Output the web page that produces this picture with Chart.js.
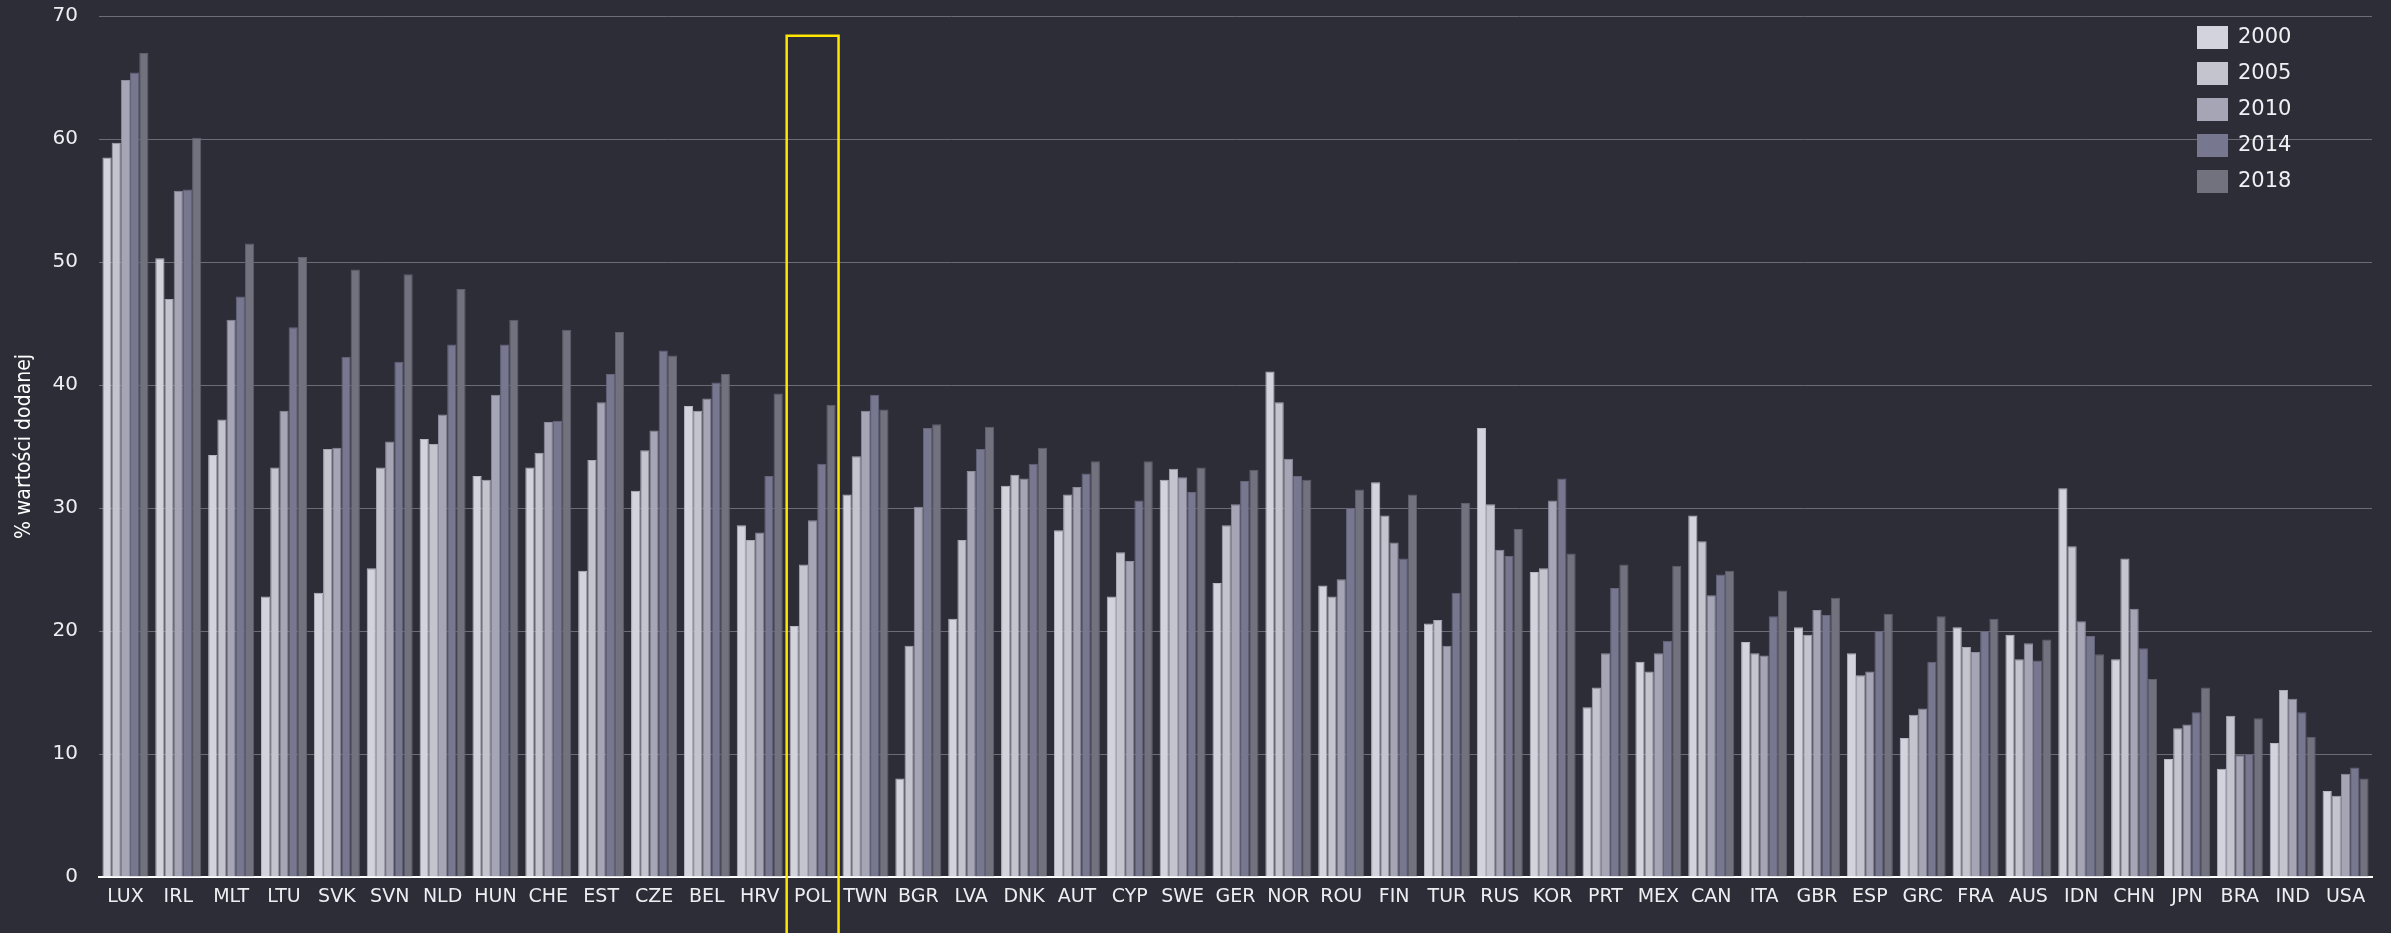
<!DOCTYPE html>
<html>
<head>
<meta charset="utf-8">
<script src="https://cdn.jsdelivr.net/npm/chart.js@4.4.1/dist/chart.umd.min.js"></script>
<style>
  html, body { margin: 0; padding: 0; background: #2d2d38; }
  #wrap { width: 2391px; height: 933px; }
</style>
</head>
<body>
<div id="wrap"><canvas id="grafico"></canvas></div>
<script>
const kraje = ['LUX','IRL','MLT','LTU','SVK','SVN','NLD','HUN','CHE','EST','CZE','BEL','HRV','POL','TWN','BGR','LVA','DNK','AUT','CYP','SWE','GER','NOR','ROU','FIN','TUR','RUS','KOR','PRT','MEX','CAN','ITA','GBR','ESP','GRC','FRA','AUS','IDN','CHN','JPN','BRA','IND','USA']
const lata = ['2000','2005','2010','2014','2018']

const v2000 = [58.5,50.3,34.3,22.8,23.1,25.1,35.6,32.6,33.3,24.9,31.4,38.3,28.6,20.4,31.1,8.0,21.0,31.8,28.2,22.8,32.3,23.9,41.1,23.7,32.1,20.6,36.5,24.8,13.8,17.5,29.4,19.1,20.3,18.2,11.3,20.3,19.7,31.6,17.7,9.6,8.8,10.9,7.0]
const v2005 = [59.7,47.0,37.2,33.3,34.8,33.3,35.2,32.3,34.5,33.9,34.7,37.9,27.4,25.4,34.2,18.8,27.4,32.7,31.1,26.4,33.2,28.6,38.6,22.8,29.4,20.9,30.3,25.1,15.4,16.7,27.3,18.2,19.7,16.4,13.2,18.7,17.7,26.9,25.9,12.1,13.1,15.2,6.6]
const v2010 = [64.8,55.8,45.3,37.9,34.9,35.4,37.6,39.2,37.0,38.6,36.3,38.9,28.0,29.0,37.9,30.1,33.0,32.4,31.7,25.7,32.5,30.3,34.0,24.2,27.2,18.8,26.6,30.6,18.2,18.2,22.9,18.0,21.7,16.7,13.7,18.3,19.0,20.8,21.8,12.4,9.9,14.5,8.4]
const v2014 = [65.4,55.9,47.2,44.7,42.3,41.9,43.3,43.3,37.1,40.9,42.8,40.2,32.6,33.6,39.2,36.5,34.8,33.6,32.8,30.6,31.3,32.2,32.6,30.0,25.9,23.1,26.1,32.4,23.5,19.2,24.6,21.2,21.3,20.0,17.5,20.0,17.6,19.6,18.6,13.4,10.0,13.4,8.9]
const v2018 = [67.0,60.1,51.5,50.4,49.4,49.0,47.8,45.3,44.5,44.3,42.4,40.9,39.3,38.4,38.0,36.8,36.6,34.9,33.8,33.8,33.3,33.1,32.3,31.5,31.1,30.4,28.3,26.3,25.4,25.3,24.9,23.3,22.7,21.4,21.2,21.0,19.3,18.1,16.1,15.4,12.9,11.4,8.0]

const kolory = ['#d3d3dd','#c4c4ce','#a5a5b6','#777790','#72727f']
const ramki = ['#b8b8c4','#a8a8b4','#8c8c9c','#65657c','#60606c']
const wyrozniony = 'POL'

const tlo = '#2d2d38'

// tlo, ramka wokol POL i legenda po prawej
const dodatki = {
  id: 'dodatki',
  beforeDraw(chart) {
    const c = chart.ctx
    c.save()
    c.fillStyle = tlo
    c.fillRect(0, 0, chart.width, chart.height)
    c.restore()
  },
  afterDraw(chart) {
    const c = chart.ctx
    const x = chart.scales.x
    const y = chart.scales.y
    const idx = kraje.indexOf(wyrozniony)
    const szer = (x.right - x.left) / kraje.length
    const srodek = x.getPixelForValue(idx)
    const gora = y.getPixelForValue(68.4)
    c.save()
    c.strokeStyle = '#ffe600'
    c.lineWidth = 2.5
    c.beginPath()
    c.moveTo(srodek - szer / 2 + 0.5, chart.height + 5)
    c.lineTo(srodek - szer / 2 + 0.5, gora)
    c.lineTo(srodek + szer / 2 - 0.5, gora)
    c.lineTo(srodek + szer / 2 - 0.5, chart.height + 5)
    c.stroke()

    // legenda
    const lx = chart.chartArea.right - 175
    c.font = '21px "DejaVu Sans"'
    c.textBaseline = 'middle'
    c.textAlign = 'left'
    chart.data.datasets.forEach((ds, i) => {
      const ly = 26 + i * 36
      c.fillStyle = ds.backgroundColor
      c.fillRect(lx, ly, 31, 23)
      c.fillStyle = '#f0f0f4'
      c.fillText(ds.label, lx + 41, ly + 12)
    })
    c.restore()
  }
}

document.addEventListener('DOMContentLoaded', () => {
  const ctx = document.getElementById('grafico')
  const zestawy = [v2000, v2005, v2010, v2014, v2018].map((d, i) => ({
    label: lata[i],
    data: d,
    backgroundColor: kolory[i],
    borderColor: ramki[i],
    borderWidth: 1,
    categoryPercentage: 0.87,
    barPercentage: 1.0
  }))

  new Chart(ctx, {
    type: 'bar',
    data: { labels: kraje, datasets: zestawy },
    plugins: [dodatki],
    options: {
      responsive: true,
      maintainAspectRatio: false,
      animation: false,
      layout: { padding: { top: 0, right: 19, left: 0, bottom: 0 } },
      plugins: {
        legend: { display: false },
        tooltip: { enabled: true }
      },
      scales: {
        x: {
          grid: { display: false, drawTicks: false },
          border: { display: true, color: '#ffffff', width: 2 },
          ticks: {
            color: '#eeeef2',
            font: { family: 'DejaVu Sans', size: 19 },
            padding: 9,
            maxRotation: 0,
            autoSkip: false
          },
          afterFit(s) { s.height = 56 }
        },
        y: {
          min: 0,
          max: 70,
          grid: { color: '#6c6c76', lineWidth: 1, drawTicks: false },
          border: { display: false },
          ticks: {
            stepSize: 10,
            color: '#eeeef2',
            font: { family: 'DejaVu Sans', size: 20 },
            padding: 21
          },
          title: {
            display: true,
            text: '% wartości dodanej',
            color: '#ffffff',
            font: { family: '"DejaVu Sans Condensed", "Liberation Sans Narrow", sans-serif', size: 21 },
            padding: { top: 12, bottom: 0 }
          },
          afterFit(s) {
            s.width = 99
            s.paddingTop = 16
            s.paddingBottom = 0
          }
        }
      }
    }
  })
})
</script>
</body>
</html>
